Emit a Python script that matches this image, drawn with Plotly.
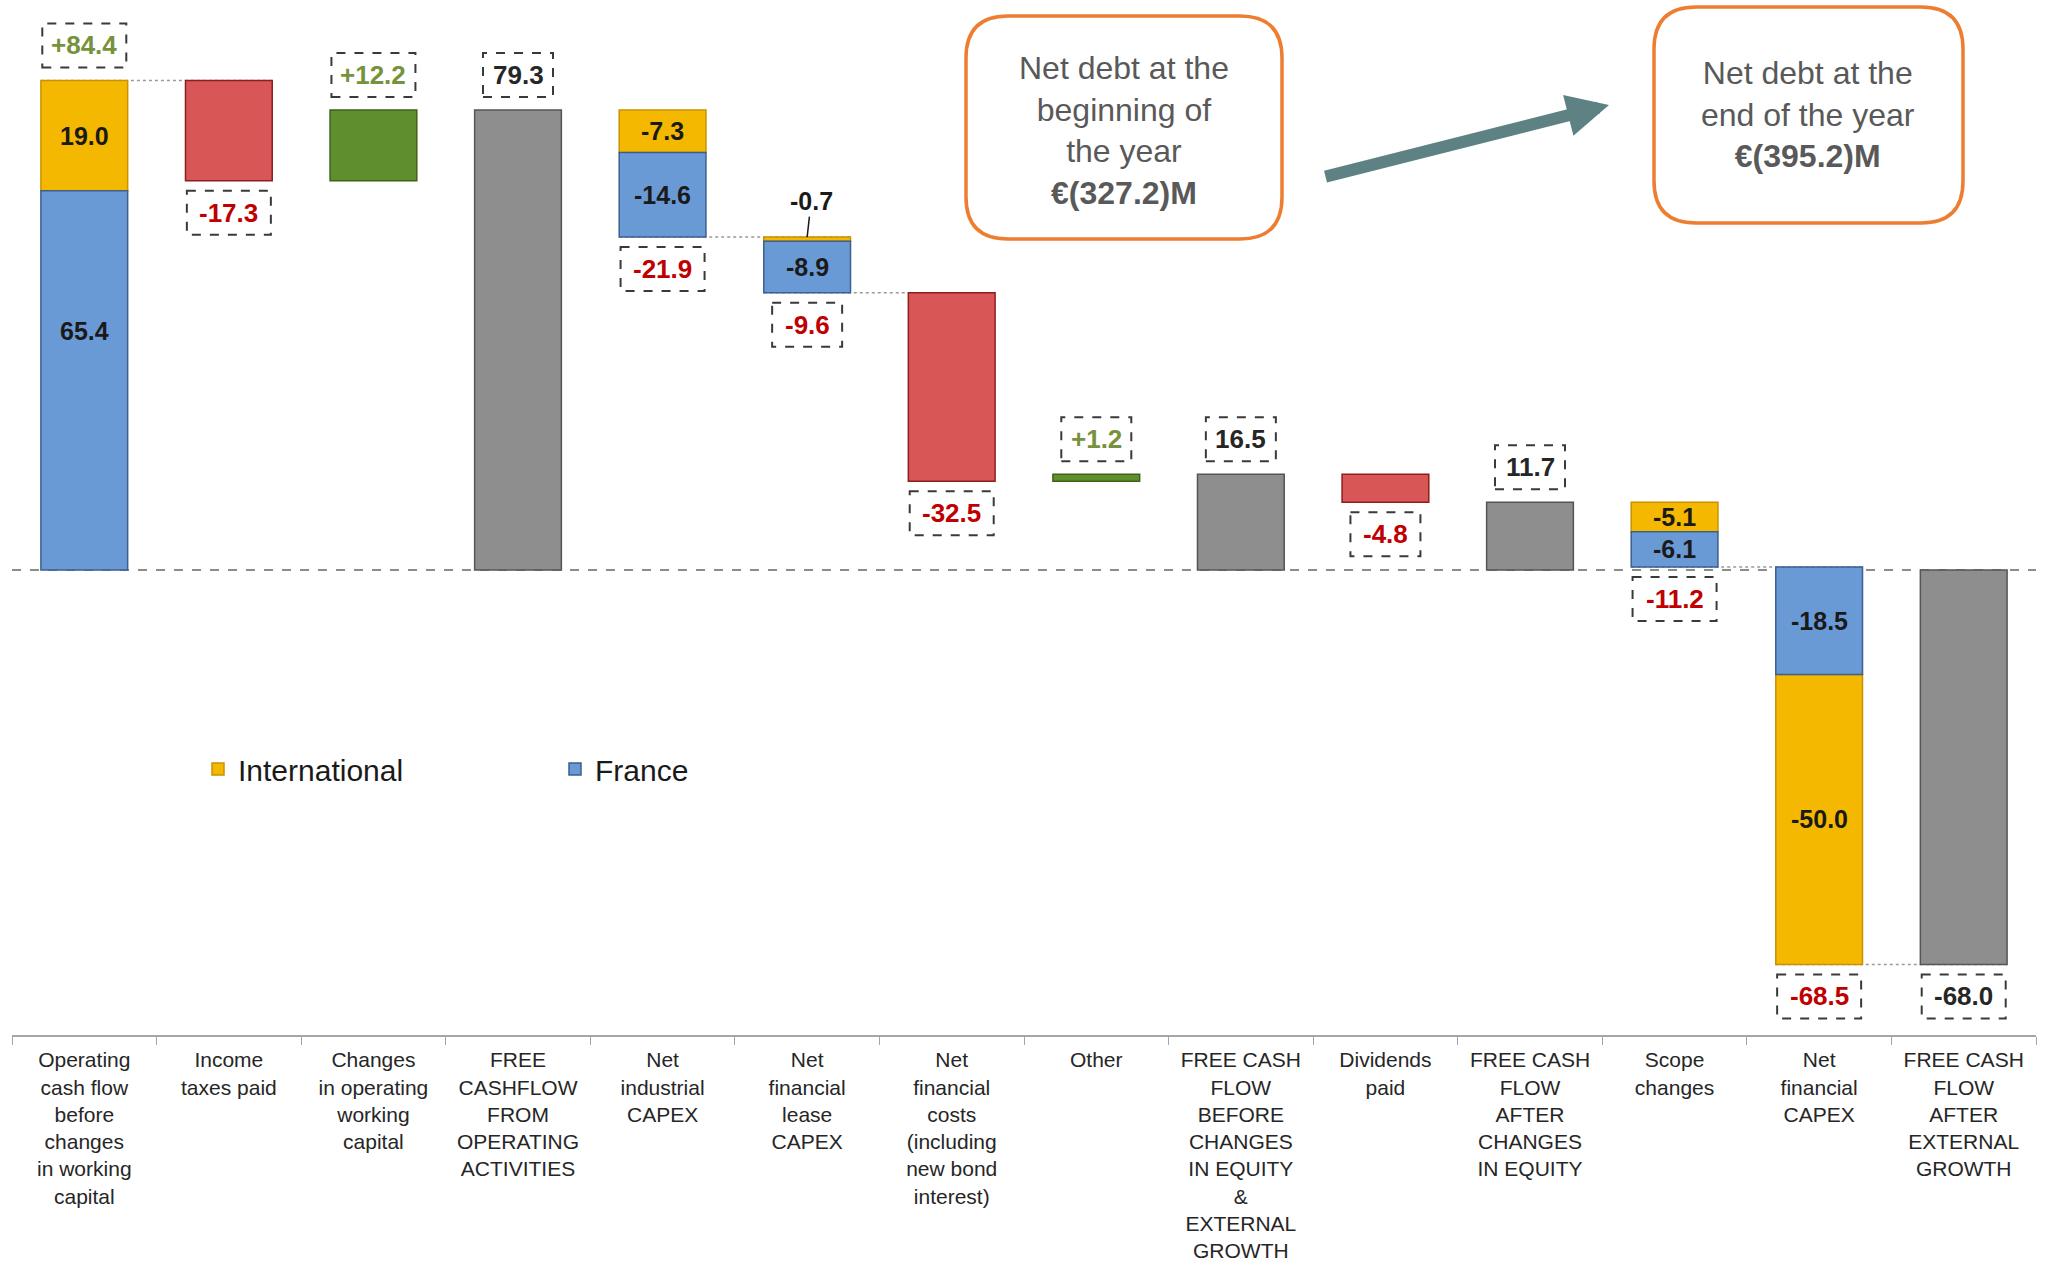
import plotly.graph_objects as go

# ---------------- data ----------------
categories = [
    "Operating<br>cash flow<br>before<br>changes<br>in working<br>capital",
    "Income<br>taxes paid",
    "Changes<br>in operating<br>working<br>capital",
    "FREE<br>CASHFLOW<br>FROM<br>OPERATING<br>ACTIVITIES",
    "Net<br>industrial<br>CAPEX",
    "Net<br>financial<br>lease<br>CAPEX",
    "Net<br>financial<br>costs<br>(including<br>new bond<br>interest)",
    "Other",
    "FREE CASH<br>FLOW<br>BEFORE<br>CHANGES<br>IN EQUITY<br>&<br>EXTERNAL<br>GROWTH",
    "Dividends<br>paid",
    "FREE CASH<br>FLOW<br>AFTER<br>CHANGES<br>IN EQUITY",
    "Scope<br>changes",
    "Net<br>financial<br>CAPEX",
    "FREE CASH<br>FLOW<br>AFTER<br>EXTERNAL<br>GROWTH",
]
steps = [84.4, -17.3, 12.2, 79.3, -21.9, -9.6, -32.5, 1.2, 16.5, -4.8, 11.7, -11.2, -68.5, -68.0]
step_kind = ["split", "delta", "delta", "total", "split", "split", "delta", "delta",
             "total", "delta", "total", "split", "split", "total"]
france = [65.4, None, None, None, -14.6, -8.9, None, None, None, None, None, -6.1, -18.5, None]
international = [19.0, None, None, None, -7.3, -0.7, None, None, None, None, None, -5.1, -50.0, None]
first_segment = ["France", None, None, None, "International", "International", None, None,
                 None, None, None, "International", "France", None]
connector_after = [0, 4, 5, 11, 12]

net_debt_start = "€(327.2)M"
net_debt_end = "€(395.2)M"

# ---------------- styling ----------------
W, H = 2055, 1263
ML, MR, MT, MB = 12, 19, 10, 228
PW, PH = W - ML - MR, H - MT - MB
FONT = "Liberation Sans, Arial, sans-serif"
C_FR, C_INT = "#6A9AD6", "#F5B800"
C_UP, C_DOWN, C_TOT = "#5E8F2C", "#D85656", "#8E8E8E"
BAR_W = 0.6

# ---------------- waterfall geometry ----------------
starts, ends = [], []
level = 0.0
for v, k in zip(steps, step_kind):
    if k == "total":
        s, e = 0.0, v
    else:
        s, e = level, level + v
    starts.append(s)
    ends.append(round(e, 2))
    level = e

fr_base, int_base = [], []
for i, k in enumerate(step_kind):
    if k == "split":
        if first_segment[i] == "France":
            fr_base.append(starts[i]); int_base.append(starts[i] + france[i])
        else:
            int_base.append(starts[i]); fr_base.append(starts[i] + international[i])
    else:
        fr_base.append(None); int_base.append(None)

fig = go.Figure()

fig.add_trace(go.Bar(x=categories, y=international, base=int_base, name="International",
                     marker=dict(color=C_INT, line=dict(color="#C99200", width=1.5)),
                     width=BAR_W, showlegend=True, hoverinfo="skip"))
fig.add_trace(go.Bar(x=categories, y=france, base=fr_base, name="France",
                     marker=dict(color=C_FR, line=dict(color="#3C5F8C", width=1.5)),
                     width=BAR_W, showlegend=True, hoverinfo="skip"))

for kind, sign, col, lcol in [("delta", 1, C_UP, "#3E6219"), ("delta", -1, C_DOWN, "#8E1E1E"),
                              ("total", 0, C_TOT, "#555555")]:
    ys, bs = [], []
    for i, k in enumerate(step_kind):
        ok = (k == kind) and (sign == 0 or (steps[i] > 0) == (sign > 0))
        ys.append(steps[i] if ok else None)
        bs.append(starts[i] if ok else None)
    fig.add_trace(go.Bar(x=categories, y=ys, base=bs, width=BAR_W, showlegend=False,
                         marker=dict(color=col, line=dict(color=lcol, width=1.5)),
                         hoverinfo="skip"))

shapes, annos = [], []

# zero line
shapes.append(dict(type="line", xref="paper", yref="y", x0=0, x1=1, y0=0, y1=0,
                   line=dict(color="#8C8C8C", width=2, dash="dash"), layer="below"))
# connectors
for i in connector_after:
    shapes.append(dict(type="line", xref="x", yref="y", x0=i - BAR_W / 2, x1=i + 1 + BAR_W / 2,
                       y0=ends[i], y1=ends[i],
                       line=dict(color="#9A9A9A", width=1.5, dash="dot"), layer="below"))

# value boxes
for i, (v, k) in enumerate(zip(steps, step_kind)):
    if k == "total":
        txt = f"{v:.1f}"; col = "#262626"
    elif v > 0:
        txt = f"+{v:.1f}"; col = "#76923C"
    else:
        txt = f"{v:.1f}"; col = "#C00000"
    above = v > 0
    anchor = max(starts[i], ends[i]) if above else min(starts[i], ends[i])
    bw = 14 * len(txt) + 14
    bh = 44
    gap = 13 if above else 10
    y0, y1 = (gap, gap + bh) if above else (-gap, -gap - bh)
    shapes.append(dict(type="rect", xref="x", yref="y", xsizemode="pixel", ysizemode="pixel",
                       xanchor=i, yanchor=anchor, x0=-bw / 2, x1=bw / 2, y0=y0, y1=y1,
                       line=dict(color="#3A3A3A", width=2, dash="dash"), fillcolor="rgba(0,0,0,0)"))
    annos.append(dict(x=i, y=anchor, xref="x", yref="y", text=f"<b>{txt}</b>", showarrow=False,
                      yshift=(y0 + y1) / 2, font=dict(family=FONT, size=26, color=col)))

# segment labels (France label of the first bar sits above the segment middle)
label_frac_france = [0.63, None, None, None, 0.5, 0.5, None, None, None, None, None, 0.5, 0.5, None]
for i, k in enumerate(step_kind):
    if k != "split":
        continue
    for val, base, frac in ((france[i], fr_base[i], label_frac_france[i]),
                            (international[i], int_base[i], 0.5)):
        if abs(val) >= 2:
            annos.append(dict(x=i, y=base + val * frac, xref="x", yref="y", text=f"<b>{val:.1f}</b>",
                              showarrow=False, font=dict(family=FONT, size=25, color="#1A1A1A")))
        else:
            top = max(base, base + val)
            annos.append(dict(x=i, y=top, xref="x", yref="y", text=f"<b>{val:.1f}</b>",
                              showarrow=True, arrowhead=0, arrowwidth=1.5, arrowcolor="#1A1A1A",
                              ax=4, ay=-36, font=dict(family=FONT, size=25, color="#1A1A1A")))


def px_x(X):
    return (X - ML) / PW


def px_y(Y):
    return (MT + PH - Y) / PH


def rounded(x0, y0, x1, y1, r):
    a, b = x0 - ML, x1 - ML
    top, bot = MT - y0, MT - y1
    return (f"M {a + r},{top} L {b - r},{top} Q {b},{top} {b},{top - r} "
            f"L {b},{bot + r} Q {b},{bot} {b - r},{bot} L {a + r},{bot} "
            f"Q {a},{bot} {a},{bot + r} L {a},{top - r} Q {a},{top} {a + r},{top} Z")


for (x0, y0, x1, y1) in [(966, 16, 1282, 239), (1654, 7, 1963, 223)]:
    shapes.append(dict(type="path", xref="paper", yref="paper", xsizemode="pixel",
                       ysizemode="pixel", xanchor=0, yanchor=1,
                       path=rounded(x0, y0, x1, y1, 42), fillcolor="white",
                       line=dict(color="#ED7D31", width=3.5)))

annos.append(dict(xref="paper", yref="paper", x=px_x(1124), y=px_y(130), showarrow=False,
                  xanchor="center", yanchor="middle",
                  text=f"Net debt at the<br>beginning of<br>the year<br><b>{net_debt_start}</b>",
                  font=dict(family=FONT, size=32, color="#595959"), align="center"))
annos.append(dict(xref="paper", yref="paper", x=px_x(1808), y=px_y(115), showarrow=False,
                  xanchor="center", yanchor="middle",
                  text=f"Net debt at the<br>end of the year<br><b>{net_debt_end}</b>",
                  font=dict(family=FONT, size=32, color="#595959"), align="center"))
# arrow between boxes
annos.append(dict(xref="paper", yref="paper", x=px_x(1609), y=px_y(105), text="",
                  showarrow=True, arrowhead=2, arrowsize=0.7, arrowwidth=12,
                  arrowcolor="#5E8283", ax=1324 - 1609, ay=177 - 105))

y_per_px = 5.8
y_top = (570 - MT) / y_per_px
y_bot = (570 - (MT + PH)) / y_per_px

fig.update_layout(
    width=W, height=H,
    margin=dict(l=ML, r=MR, t=MT, b=MB, autoexpand=False),
    paper_bgcolor="white", plot_bgcolor="white",
    barmode="overlay",
    shapes=shapes, annotations=annos,
    showlegend=True,
    legend=dict(orientation="h", x=px_x(198), y=px_y(769), xanchor="left", yanchor="middle",
                entrywidth=312, font=dict(family=FONT, size=30, color="#1A1A1A"),
                bgcolor="rgba(0,0,0,0)", traceorder="normal"),
    xaxis=dict(type="category", showline=True, linecolor="#A6A6A6", linewidth=2,
               ticks="outside", tickson="boundaries", ticklen=8, tickcolor="#A6A6A6",
               ticklabelstandoff=5, automargin=False,
               tickfont=dict(family=FONT, size=21, color="#262626"), showgrid=False,
               fixedrange=True),
    yaxis=dict(range=[y_bot, y_top], visible=False, showgrid=False, zeroline=False,
               automargin=False),
    font=dict(family=FONT),
)

fig.write_html("out.html")
